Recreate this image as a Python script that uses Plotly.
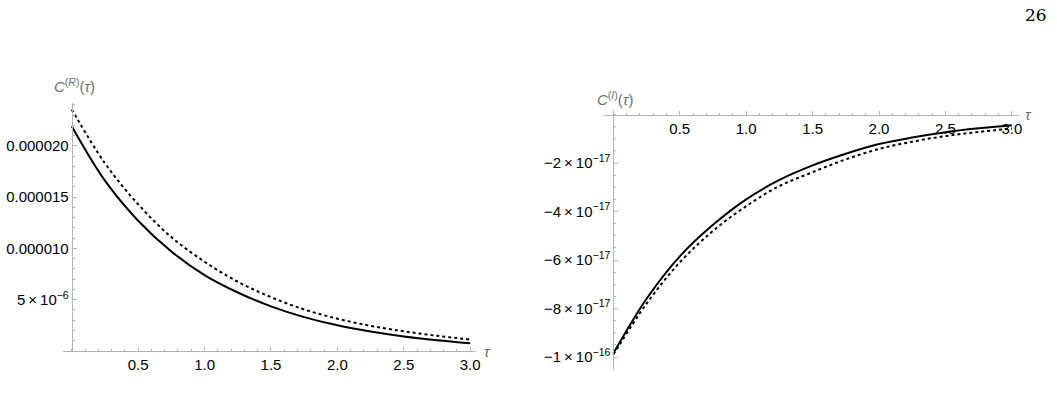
import plotly.graph_objects as go

# ---- data ----
tau = [0.0, 0.25, 0.5, 0.75, 1.0, 1.25, 1.5, 1.75, 2.0, 2.25, 2.5, 2.75, 3.0]

# left panel, C^(R)(tau), units of 1e-6
cr_solid = [21.9, 16.6, 12.7, 9.7, 7.4, 5.7, 4.35, 3.3, 2.5, 1.9, 1.42, 1.05, 0.75]
cr_dashed = [23.55, 18.3, 14.3, 11.1, 8.7, 6.75, 5.25, 4.05, 3.15, 2.45, 1.92, 1.48, 1.12]

# right panel, C^(I)(tau), units of 1e-17
ci_solid = [-9.85, -7.6, -5.85, -4.55, -3.5, -2.7, -2.1, -1.62, -1.22, -0.95, -0.73, -0.57, -0.44]
ci_dashed = [-9.9, -7.8, -6.1, -4.8, -3.78, -2.95, -2.38, -1.85, -1.42, -1.12, -0.89, -0.72, -0.58]

x_ticks = [0.5, 1.0, 1.5, 2.0, 2.5, 3.0]
x_ticktext = ["0.5", "1.0", "1.5", "2.0", "2.5", "3.0"]
left_yticks = [5e-6, 10e-6, 15e-6, 20e-6]
left_yticktext = ["5\u2009\u00d7\u200910<sup>\u22126</sup>", "0.000010", "0.000015", "0.000020"]
right_yticks = [-2e-17, -4e-17, -6e-17, -8e-17, -1e-16]
right_yticktext = ["\u22122\u2009\u00d7\u200910<sup>\u221217</sup>", "\u22124\u2009\u00d7\u200910<sup>\u221217</sup>",
                   "\u22126\u2009\u00d7\u200910<sup>\u221217</sup>", "\u22128\u2009\u00d7\u200910<sup>\u221217</sup>",
                   "\u22121\u2009\u00d7\u200910<sup>\u221216</sup>"]

W, H = 1057, 400
AX = "#b4b4b4"
TICKFONT = dict(family="Liberation Sans, Arial, sans-serif", size=15, color="#000000")

fig = go.Figure()

def line(x, y, xa, ya, dashed):
    return go.Scatter(x=x, y=y, xaxis=xa, yaxis=ya, mode="lines",
                      line=dict(color="black", width=2,
                                dash="3px,3px" if dashed else "solid", shape="spline"),
                      showlegend=False, hoverinfo="skip")

fig.add_trace(line(tau, [v * 1e-6 for v in cr_dashed], "x", "y", True))
fig.add_trace(line(tau, [v * 1e-6 for v in cr_solid], "x", "y", False))
fig.add_trace(line(tau, [v * 1e-17 for v in ci_dashed], "x2", "y2", True))
fig.add_trace(line(tau, [v * 1e-17 for v in ci_solid], "x2", "y2", False))

# ---- left panel geometry (pixels) ----
lx0, lx1 = 63.3, 478.0      # x-axis extent
lzero = 72.0                 # x = 0 pixel
pxu = 133.33                 # px per unit tau
ly_top, ly_bot = 103.0, 351.0
lpy = 51.3 / 5e-6            # px per unit y

# ---- right panel geometry ----
rx0, rx1 = 606.7, 1022.7
rzero = 615.7
ry_top, ry_bot = 110.0, 370.0
ry_zero = 114.5
rpy = 24.25 / 1e-17

common_minor = dict(ticks="inside", ticklen=2, tickcolor=AX)

fig.update_layout(
    width=W, height=H, margin=dict(l=0, r=0, t=0, b=0),
    paper_bgcolor="white", plot_bgcolor="rgba(0,0,0,0)",
    xaxis=dict(domain=[lx0 / W, lx1 / W],
               range=[(lx0 - lzero) / pxu, (lx1 - lzero) / pxu],
               anchor="y", showgrid=False, zeroline=False,
               showline=True, linecolor=AX, linewidth=1,
               tickmode="array", tickvals=x_ticks, ticktext=x_ticktext,
               ticks="inside", ticklen=4, tickcolor=AX, tickfont=TICKFONT,
               minor=dict(tickmode="linear", tick0=0, dtick=0.1, **common_minor)),
    yaxis=dict(domain=[(H - ly_bot) / H, (H - ly_top) / H],
               range=[0, (ly_bot - ly_top) / lpy],
               anchor="free", position=lzero / W, showgrid=False, zeroline=False,
               showline=True, linecolor=AX, linewidth=1,
               tickmode="array", tickvals=left_yticks, ticktext=left_yticktext,
               ticks="inside", ticklen=4, tickcolor=AX, tickfont=TICKFONT,
               minor=dict(tickmode="linear", tick0=0, dtick=1e-6, **common_minor)),
    xaxis2=dict(domain=[rx0 / W, rx1 / W],
                range=[(rx0 - rzero) / pxu, (rx1 - rzero) / pxu],
                anchor="free", position=(H - ry_zero) / H, side="bottom",
                showgrid=False, zeroline=False,
                showline=True, linecolor=AX, linewidth=1,
                tickmode="array", tickvals=x_ticks, ticktext=x_ticktext,
                ticks="inside", ticklen=4, tickcolor=AX, tickfont=TICKFONT,
                minor=dict(tickmode="linear", tick0=0, dtick=0.1, **common_minor)),
    yaxis2=dict(domain=[(H - ry_bot) / H, (H - ry_top) / H],
                range=[-(ry_bot - ry_zero) / rpy, (ry_zero - ry_top) / rpy],
                anchor="free", position=rzero / W, showgrid=False, zeroline=False,
                showline=True, linecolor=AX, linewidth=1,
                tickmode="array", tickvals=right_yticks, ticktext=right_yticktext,
                ticks="inside", ticklen=4, tickcolor=AX, tickfont=TICKFONT,
                minor=dict(tickmode="linear", tick0=0, dtick=5e-18, **common_minor)),
)

LABFONT = dict(family="Liberation Sans, Arial, sans-serif", size=15, color="#6e6e6e")
ann = [
    dict(text="<i>C</i><sup>(<i>R</i>)</sup>(<i>\u03c4</i>)", x=75 / W, y=(H - 85) / H),
    dict(text="<i>\u03c4</i>", x=489 / W, y=(H - 351) / H),
    dict(text="<i>C</i><sup>(<i>I</i>)</sup>(<i>\u03c4</i>)", x=617 / W, y=(H - 98) / H),
    dict(text="<i>\u03c4</i>", x=1032 / W, y=(H - 115) / H),
]
for a in ann:
    fig.add_annotation(xref="paper", yref="paper", showarrow=False,
                       xanchor="center", yanchor="middle", font=LABFONT, **a)

fig.add_annotation(xref="paper", yref="paper", showarrow=False, text="26",
                   x=1040 / W, y=(H - 15) / H, xanchor="center", yanchor="middle",
                   font=dict(family="DejaVu Serif, Liberation Serif, serif", size=17, color="black"))

fig.write_html("out.html")
